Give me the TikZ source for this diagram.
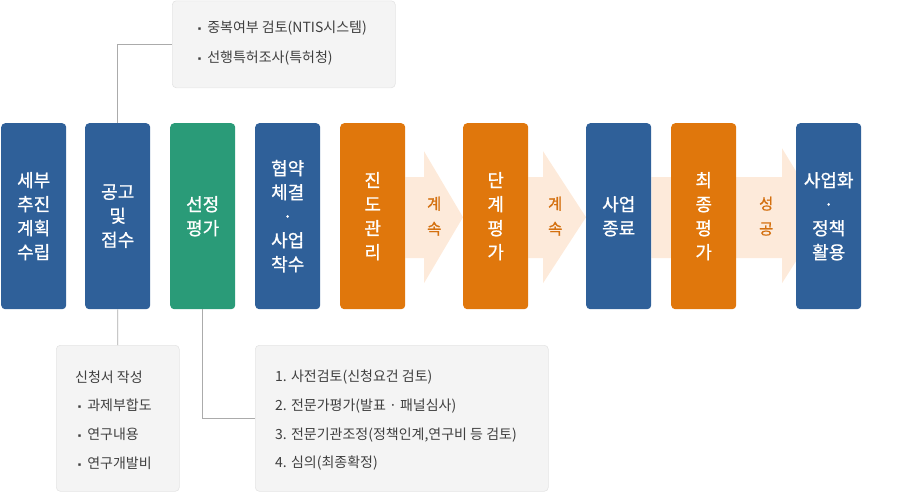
\documentclass[tikz,border=0pt]{standalone}
\usepackage{fontspec}
\setmainfont{Noto Sans CJK KR}
\newfontfamily\medfont[FakeBold=0.8]{Noto Sans CJK KR}
\usetikzlibrary{calc}
\definecolor{cblue}{HTML}{2F6099}
\definecolor{cgreen}{HTML}{2A9B78}
\definecolor{corange}{HTML}{E0770C}
\definecolor{cpeach}{HTML}{FDEADA}
\definecolor{clabel}{HTML}{D4700F}
\definecolor{cnote}{HTML}{F4F4F4}
\definecolor{cnoteline}{HTML}{E4E4E4}
\definecolor{cconn}{HTML}{ABABAB}
\definecolor{ctext}{HTML}{3F3F3F}
\pgfdeclarelayer{bg}
\pgfsetlayers{bg,main}
\begin{document}
\begin{tikzpicture}[x=1pt,y=-1pt,
  stage/.style={rounded corners=4pt, minimum width=65pt, minimum height=186pt, inner sep=0pt,
    text=white, align=center, anchor=north west, font=\fontsize{18}{24}\medfont},
  lbl/.style={text=clabel, align=center, inner sep=0pt, font=\fontsize{15.5}{25}\medfont},
  note/.style={rounded corners=4pt, fill=cnote, draw=cnoteline, line width=0.6pt, inner sep=0pt, anchor=north west},
  ntext/.style={text=ctext, inner sep=0pt, anchor=west, font=\fontsize{14}{16}\selectfont},
  conn/.style={draw=cconn, line width=0.8pt},
  arrowshape/.style={fill=cpeach}
]
\useasboundingbox (0,0) rectangle (916,493);

% stage boxes
\node[stage, fill=cblue]   (s1) at (1,123)   {세부\\추진\\계획\\수립};
\node[stage, fill=cblue]   (s2) at (85,123)  {공고\\및\\접수};
\node[stage, fill=cgreen]  (s3) at (170,123) {선정\\평가};
\node[stage, fill=cblue]   (s4) at (255,123) {협약\\체결\\·\\사업\\착수};
\node[stage, fill=corange] (s5) at (340,123) {진\\도\\관\\리};
\node[stage, fill=corange] (s6) at (463,123) {단\\계\\평\\가};
\node[stage, fill=cblue]   (s7) at (586,123) {사업\\종료};
\node[stage, fill=corange] (s8) at (671,123) {최\\종\\평\\가};
\node[stage, fill=cblue]   (s9) at (796,123) {사업화\\·\\정책\\활용};

% arrows behind boxes
\begin{pgfonlayer}{bg}
\fill[arrowshape] ($(s5.east)+(0,-39)$) -- ($(s6.west)+(-39,-39)$) -- ($(s6.west)+(-39,-65)$)
  -- ($(s6.west)+(0,1)$) -- ($(s6.west)+(-39,67)$) -- ($(s6.west)+(-39,42)$) -- ($(s5.east)+(0,42)$) -- cycle;
\fill[arrowshape] ($(s6.east)+(0,-39)$) -- ($(s7.west)+(-43,-39)$) -- ($(s7.west)+(-43,-65)$)
  -- ($(s7.west)+(0,1)$) -- ($(s7.west)+(-43,67)$) -- ($(s7.west)+(-43,42)$) -- ($(s6.east)+(0,42)$) -- cycle;
\fill[arrowshape] ($(s7.east)+(0,-39)$) -- ($(s9.west)+(-14,-39)$) -- ($(s9.west)+(-14,-68)$)
  -- ($(s9.west)+(28,1)$) -- ($(s9.west)+(-14,67)$) -- ($(s9.west)+(-14,42)$) -- ($(s7.east)+(0,42)$) -- cycle;
\end{pgfonlayer}

% arrow labels
\node[lbl] (l1) at ($(s5.east)!0.5!(s6.west)+(0,0)$) {계\\속};
\node[lbl] (l2) at ($(s6.east)!0.5!(s7.west)+(-2,0)$) {계\\속};
\node[lbl] (l3) at ($(s8.east)!0.5!(s9.west)+(0,0)$) {성\\공};

% note boxes
\node[note, minimum width=223pt, minimum height=87pt] (n1) at (172,0.5) {};
\node[note, minimum width=123pt, minimum height=146pt] (n2) at (56,345) {};
\node[note, minimum width=293pt, minimum height=146pt] (n3) at (255,345) {};

% note texts
\node[ntext] (n1a) at (195,28) {{\fontsize{9}{9}\selectfont ▪} 중복여부 검토(NTIS시스템)};
\node[ntext] (n1b) at (195,58) {{\fontsize{9}{9}\selectfont ▪} 선행특허조사(특허청)};

\node[ntext] (n2a) at (75,377) {신청서 작성};
\node[ntext] (n2b) at (75,405) {{\fontsize{9}{9}\selectfont ▪} 과제부합도};
\node[ntext] (n2c) at (75,434) {{\fontsize{9}{9}\selectfont ▪} 연구내용};
\node[ntext] (n2d) at (75,463) {{\fontsize{9}{9}\selectfont ▪} 연구개발비};

\node[ntext] (n3a) at (275,377) {1. 사전검토(신청요건 검토)};
\node[ntext] (n3b) at (275,406) {2. 전문가평가(발표 · 패널심사)};
\node[ntext] (n3c) at (275,435) {3. 전문기관조정(정책인계,연구비 등 검토)};
\node[ntext] (n3d) at (275,463) {4. 심의(최종확정)};

% connectors
\draw[conn] (s2.north) |- (n1.west);
\draw[conn] (s2.south) -- (n2.north);
\draw[conn] (s3.south) |- (n3.west);
\end{tikzpicture}
\end{document}
